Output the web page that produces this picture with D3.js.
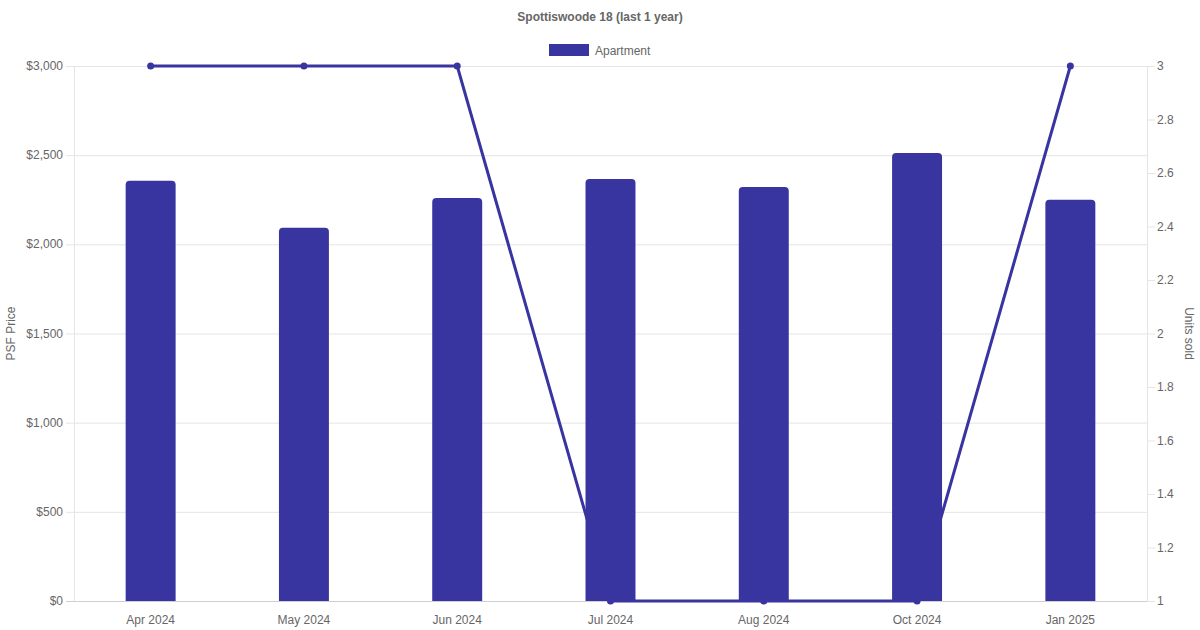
<!DOCTYPE html>
<html>
<head>
<meta charset="utf-8">
<script src="https://cdn.jsdelivr.net/npm/d3@7"></script>
<style>
  body { margin: 0; background: #fff; }
  svg text { font-family: "Liberation Sans", Arial, sans-serif; fill: #666; }
</style>
</head>
<body>
<svg id="chart" width="1200" height="630"></svg>
<script>
// data
var months = ["Apr 2024", "May 2024", "Jun 2024", "Jul 2024", "Aug 2024", "Oct 2024", "Jan 2025"]
var psfPrice = [2357, 2093, 2260, 2366, 2321, 2512, 2250]
var unitsSold = [3, 3, 3, 1, 1, 1, 3]
var priceTicks = [0, 500, 1000, 1500, 2000, 2500, 3000]
var unitTicks = [1, 1.2, 1.4, 1.6, 1.8, 2, 2.2, 2.4, 2.6, 2.8, 3]

var margin = {top: 66, right: 53, bottom: 29, left: 74}
var width = 1200, height = 630
var barColor = "#3935a0"

var svg = d3.select("#chart")

var x = d3.scaleBand().domain(months).range([margin.left, width - margin.right])
var y = d3.scaleLinear().domain([0, 3000]).range([height - margin.bottom, margin.top])
var yR = d3.scaleLinear().domain([1, 3]).range([height - margin.bottom, margin.top])

// gridlines
svg.append("g").selectAll("line").data(priceTicks).enter().append("line")
  .attr("x1", margin.left - 8).attr("x2", width - margin.right)
  .attr("y1", d => y(d) + 0.5).attr("y2", d => y(d) + 0.5)
  .attr("stroke", d => d == 0 ? "#cfcfcf" : "#e5e5e5")

// axis lines
svg.append("line")
  .attr("x1", margin.left + 0.5).attr("x2", margin.left + 0.5)
  .attr("y1", margin.top).attr("y2", height - margin.bottom)
  .attr("stroke", "#e5e5e5")
svg.append("line")
  .attr("x1", width - margin.right + 0.5).attr("x2", width - margin.right + 0.5)
  .attr("y1", margin.top).attr("y2", height - margin.bottom)
  .attr("stroke", "#e5e5e5")

// left labels
svg.append("g").selectAll("text").data(priceTicks).enter().append("text")
  .attr("x", margin.left - 11).attr("y", d => y(d) + 4)
  .attr("text-anchor", "end").attr("font-size", 12)
  .text(d => "$" + d3.format(",")(d))

// right ticks + labels
svg.append("g").selectAll("line").data(unitTicks).enter().append("line")
  .attr("x1", width - margin.right).attr("x2", width - margin.right + 8)
  .attr("y1", d => yR(d) + 0.5).attr("y2", d => yR(d) + 0.5)
  .attr("stroke", "#e5e5e5")
svg.append("g").selectAll("text").data(unitTicks).enter().append("text")
  .attr("x", width - margin.right + 10).attr("y", d => yR(d) + 4)
  .attr("font-size", 12)
  .text(d => d3.format("~g")(d))

// x labels
svg.append("g").selectAll("text").data(months).enter().append("text")
  .attr("x", d => x(d) + x.bandwidth() / 2).attr("y", height - 6)
  .attr("text-anchor", "middle").attr("font-size", 12)
  .text(d => d)

// line (drawn under the bars)
var line = d3.line()
  .x((d, i) => x(months[i]) + x.bandwidth() / 2)
  .y(d => yR(d))
svg.append("path").datum(unitsSold)
  .attr("d", line).attr("fill", "none")
  .attr("stroke", barColor).attr("stroke-width", 3)
svg.append("g").selectAll("circle").data(unitsSold).enter().append("circle")
  .attr("cx", (d, i) => x(months[i]) + x.bandwidth() / 2)
  .attr("cy", d => yR(d)).attr("r", 3.5)
  .attr("fill", barColor)

// bars with rounded tops
var bw = x.bandwidth() * 0.326
var r = 4
svg.append("g").selectAll("path").data(psfPrice).enter().append("path")
  .attr("d", function(d, i) {
    var x0 = x(months[i]) + x.bandwidth() / 2 - bw / 2, x1 = x0 + bw
    var y0 = y(d), yb = y(0)
    return "M" + x0 + "," + yb + "L" + x0 + "," + (y0 + r) +
      "Q" + x0 + "," + y0 + " " + (x0 + r) + "," + y0 +
      "L" + (x1 - r) + "," + y0 +
      "Q" + x1 + "," + y0 + " " + x1 + "," + (y0 + r) +
      "L" + x1 + "," + yb + "Z"
  })
  .attr("fill", barColor)

// title
svg.append("text").attr("x", 600).attr("y", 21)
  .attr("text-anchor", "middle").attr("font-size", 12).attr("font-weight", "bold")
  .text("Spottiswoode 18 (last 1 year)")

// legend
svg.append("rect").attr("x", 549).attr("y", 44).attr("width", 40).attr("height", 12)
  .attr("fill", barColor)
svg.append("text").attr("x", 595).attr("y", 54.5).attr("font-size", 12).text("Apartment")

// axis titles
svg.append("text").attr("transform", "translate(15," + (y(1500)) + ") rotate(-90)")
  .attr("text-anchor", "middle").attr("font-size", 12).text("PSF Price")
svg.append("text").attr("transform", "translate(1185," + (y(1500)) + ") rotate(90)")
  .attr("text-anchor", "middle").attr("font-size", 12).text("Units sold")
</script>
</body>
</html>
